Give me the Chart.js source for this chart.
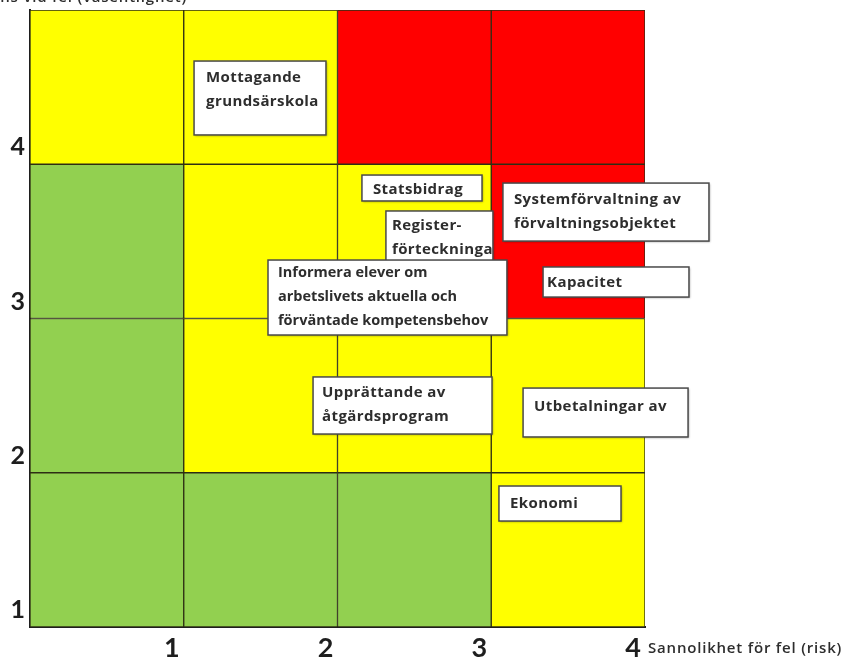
<!DOCTYPE html>
<html>
<head>
<meta charset="utf-8">
<script src="https://cdn.jsdelivr.net/npm/chart.js@4/dist/chart.umd.min.js"></script>
<style>
  html, body { margin: 0; padding: 0; background: #ffffff; }
  #wrap { width: 848px; height: 661px; position: relative; }
</style>
</head>
<body>
<div id="wrap"><canvas id="matrix"></canvas></div>
<script>
// Risk matrix: probability of error (x) against consequence (y)
const columnCenters = [0.5, 1.5, 2.5, 3.5];
const rowBands = [[0, 1], [1, 2], [2, 3], [3, 4]];
// Risk level per cell, rows bottom -> top, columns left -> right (0 low, 1 medium, 2 high)
const levelRow1 = [0, 0, 0, 1];
const levelRow2 = [0, 1, 1, 1];
const levelRow3 = [0, 1, 1, 2];
const levelRow4 = [1, 1, 2, 2];
const levelRows = [levelRow1, levelRow2, levelRow3, levelRow4];

const xTickLabels = ['', '1', '2', '3', '4'];
const yTickLabels = ['1', '2', '3', '4', ''];
const xAxisTitle = 'Sannolikhet för fel (risk)';
const yAxisTitle = 'Konsekvens vid fel (väsentlighet)';

// Assessed items, each placed in the matrix (axis units: left, right, top, bottom)
const itemLabels = [
  ['Mottagande', 'grundsärskola'],
  ['Statsbidrag'],
  ['Register-', 'förteckninga'],
  ['Informera elever om', 'arbetslivets aktuella och', 'förväntade kompetensbehov'],
  ['Systemförvaltning av', 'förvaltningsobjektet'],
  ['Kapacitet'],
  ['Upprättande av', 'åtgärdsprogram'],
  ['Utbetalningar av'],
  ['Ekonomi']
];
const itemLeft   = [1.067, 2.159, 2.315, 1.548, 3.076, 3.337, 1.841, 3.207, 3.050];
const itemRight  = [1.925, 2.940, 3.011, 3.102, 4.416, 4.286, 3.005, 4.280, 3.844];
const itemTop    = [3.669, 2.930, 2.697, 2.379, 2.878, 2.334, 1.621, 1.549, 0.914];
const itemBottom = [3.190, 2.762, 2.366, 1.893, 2.502, 2.139, 1.251, 1.232, 0.687];

// Styling
const levelColors = ['#92d050', '#ffff00', '#ff0000'];
const cellBorder = '#2e2e14';
const textColor = '#2d2d2d';
const noteFont = '700 15px "Open Sans", Lato, sans-serif';
const noteFontSmall = '700 14.5px "Open Sans", Lato, sans-serif';
const titleFont = '600 15px "Open Sans", Lato, sans-serif';
const notePadX = [12, 11, 6, 10, 11, 4, 9, 11, 11];
const noteFirstLine = [17, 15, 15, 13, 17, 16, 16, 19, 18];
const noteLineHeight = 24;

const datasets = rowBands.map((band, r) => ({
  label: 'Konsekvens ' + (r + 1),
  data: columnCenters.map(cx => ({ x: cx, y: band })),
  backgroundColor: levelRows[r].map(l => levelColors[l]),
  borderColor: cellBorder,
  borderWidth: 1,
  borderSkipped: false,
  grouped: false,
  barPercentage: 1,
  categoryPercentage: 1
}));

const notesPlugin = {
  id: 'notes',
  afterDatasetsDraw(chart) {
    const { ctx, scales: { x, y } } = chart;
    ctx.save();
    itemLabels.forEach((lines, i) => {
      const l = x.getPixelForValue(itemLeft[i]);
      const r = x.getPixelForValue(itemRight[i]);
      const t = y.getPixelForValue(itemTop[i]);
      const b = y.getPixelForValue(itemBottom[i]);
      ctx.save();
      ctx.shadowColor = 'rgba(0,0,0,0.35)';
      ctx.shadowBlur = 2;
      ctx.shadowOffsetX = 1;
      ctx.shadowOffsetY = 1;
      ctx.fillStyle = '#ffffff';
      ctx.fillRect(l, t, r - l, b - t);
      ctx.restore();
      ctx.strokeStyle = '#4a4a4a';
      ctx.lineWidth = 1.5;
      ctx.strokeRect(l, t, r - l, b - t);
      ctx.fillStyle = textColor;
      ctx.font = lines.length > 2 ? noteFontSmall : noteFont;
      ctx.letterSpacing = lines.length > 2 ? '0px' : '0.4px';
      ctx.textAlign = 'left';
      ctx.textBaseline = 'middle';
      lines.forEach((line, k) => {
        ctx.fillText(line, l + notePadX[i], t + noteFirstLine[i] + k * noteLineHeight);
      });
    });
    ctx.restore();
  },
  afterDraw(chart) {
    const { ctx, scales: { x, y } } = chart;
    ctx.save();
    ctx.fillStyle = textColor;
    ctx.font = titleFont;
    ctx.letterSpacing = '0.8px';
    ctx.textBaseline = 'middle';
    ctx.textAlign = 'left';
    ctx.fillText(xAxisTitle, x.right + 3, y.bottom + 22);
    ctx.textAlign = 'right';
    ctx.textBaseline = 'alphabetic';
    ctx.fillText(yAxisTitle, x.left + 157, 2);
    ctx.restore();
  }
};

new Chart(document.getElementById('matrix'), {
  type: 'bar',
  data: { datasets },
  plugins: [notesPlugin],
  options: {
    responsive: true,
    maintainAspectRatio: false,
    animation: false,
    layout: { padding: { top: 10, right: 203, left: 0, bottom: 0 } },
    plugins: { legend: { display: false }, tooltip: { enabled: false } },
    scales: {
      x: {
        type: 'linear',
        min: 0,
        max: 4,
        offset: false,
        afterFit: s => { s.height = 34; s.paddingLeft = 0; s.paddingRight = 0; },
        grid: { display: false, drawTicks: false },
        border: { display: true, color: '#1e1e1e', width: 2 },
        ticks: {
          stepSize: 1,
          autoSkip: false,
          maxRotation: 0,
          padding: 5,
          labelOffset: -12,
          color: '#1e1e1e',
          font: { family: 'Lato, "Open Sans", sans-serif', size: 27, weight: '700' },
          callback: v => xTickLabels[v]
        }
      },
      y: {
        type: 'linear',
        min: 0,
        max: 4,
        afterFit: s => { s.width = 30; s.paddingTop = 0; s.paddingBottom = 0; },
        grid: { display: false, drawTicks: false },
        border: { display: true, color: '#1e1e1e', width: 2 },
        ticks: {
          stepSize: 1,
          autoSkip: false,
          padding: 5,
          labelOffset: -17,
          color: '#1e1e1e',
          font: { family: 'Lato, "Open Sans", sans-serif', size: 25, weight: '700' },
          callback: v => yTickLabels[v]
        }
      }
    }
  }
});
</script>
</body>
</html>
